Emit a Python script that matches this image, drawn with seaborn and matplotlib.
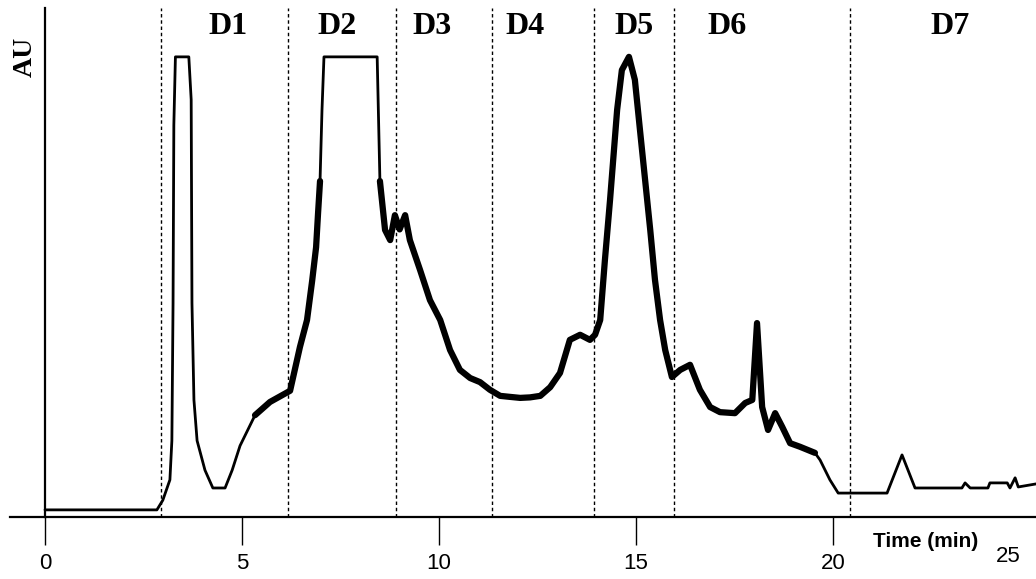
import matplotlib
matplotlib.use("Agg")
import matplotlib.pyplot as plt
import seaborn as sns
import numpy as np

# chromatogram trace (time in min, absorbance in arbitrary units)
time_min = [0, 2.84, 2.99, 3.17, 3.22, 3.25, 3.27, 3.31, 3.65, 3.71, 3.73, 3.78, 3.86,
            4.06, 4.26, 4.57, 4.75, 4.95, 5.33, 5.71, 6.22, 6.47, 6.65, 6.78, 6.88,
            6.93, 6.98, 7.03, 7.08, 8.43, 8.5, 8.63, 8.76, 8.88, 9.0, 9.14, 9.26,
            9.52, 9.77, 10.03, 10.28, 10.53, 10.79, 11.04, 11.29, 11.55, 11.8, 12.06,
            12.31, 12.57, 12.82, 13.07, 13.32, 13.58, 13.83, 13.96, 14.09, 14.21,
            14.34, 14.52, 14.64, 14.82, 14.97, 15.1, 15.23, 15.36, 15.48, 15.61,
            15.74, 15.91, 16.12, 16.37, 16.62, 16.88, 17.13, 17.51, 17.77, 17.95,
            18.07, 18.2, 18.35, 18.53, 18.71, 18.91, 19.16, 19.54, 19.67, 19.92,
            20.13, 21.37, 21.75, 22.08, 23.27, 23.35, 23.48, 23.93, 23.98, 24.42,
            24.49, 24.62, 24.7, 25.15]
au = [1.4, 1.4, 3.3, 7.3, 15, 42, 77, 90.4, 90.4, 82, 42, 23, 15,
      9.2, 5.7, 5.7, 9.2, 14, 20, 22.6, 24.8, 33.4, 38.7, 46.4, 53,
      59.7, 66, 80, 90.4, 90.4, 66, 56.4, 54.4, 59.3, 56.5, 59.3, 54.4,
      48.5, 42.6, 38.7, 32.8, 28.9, 27.3, 26.5, 25, 23.8, 23.6, 23.4,
      23.5, 23.8, 25.5, 28.3, 34.8, 35.8, 34.8, 35.8, 38.7, 50.5,
      62.3, 80, 87.8, 90.4, 85.9, 76, 66.2, 56.4, 46.6, 38.7,
      32.8, 27.5, 28.9, 29.9, 25, 21.6, 20.6, 20.4, 22.4, 23,
      38.1, 21.6, 17.1, 20.4, 17.7, 14.5, 13.8, 12.6, 11.2, 7.3,
      4.7, 4.7, 12.2, 5.7, 5.7, 6.7, 5.7, 5.7, 6.7, 6.7,
      5.7, 7.7, 5.9, 6.5]

# noisy stretches of the trace (drawn as a wider band)
noisy_spans = [(5.3, 7.0), (8.45, 19.6)]

# fraction boundaries and labels
cut_times = [2.94, 6.17, 8.9, 11.35, 13.93, 15.96, 20.43]
fractions = ["D1", "D2", "D3", "D4", "D5", "D6", "D7"]
fraction_pos = [4.64, 7.41, 9.82, 12.18, 14.95, 17.31, 22.97]

x_ticks = [0, 5, 10, 15, 20]

sns.set_style("white")
plt.rcParams["font.family"] = ["Liberation Sans", "DejaVu Sans"]
plt.rcParams["text.color"] = "black"

fig = plt.figure(figsize=(10.36, 5.79), dpi=100)
ax = fig.add_axes([10 / 1036, 62 / 579, 1026 / 1036, 509 / 579])

sns.lineplot(x=time_min, y=au, ax=ax, color="black", lw=2.0,
             estimator=None, sort=False)

t_arr = np.array(time_min)
au_arr = np.array(au)
for lo, hi in noisy_spans:
    m = (t_arr >= lo) & (t_arr <= hi)
    ax.plot(t_arr[m], au_arr[m], color="black", lw=4.5, solid_joinstyle="round",
            solid_capstyle="round")

for c in cut_times:
    ax.axvline(c, ymin=0, ymax=1, color="black", lw=1.0, ls=(0, (2.5, 2)))

for lab, pos in zip(fractions, fraction_pos):
    ax.text(pos, 96.3, lab, ha="center", va="center", fontsize=23,
            fontweight="bold", color="black",
            family=["Liberation Serif", "DejaVu Serif"])

ax.text(-0.51, 90.4, "AU", rotation=90, ha="center", va="center", fontsize=20,
        fontweight="bold", color="black",
        family=["Liberation Serif", "DejaVu Serif"])

ax.set_xlim(-0.888, 25.15)
ax.set_ylim(0, 100)

sns.despine(ax=ax, top=True, right=True)
ax.spines["left"].set_position(("data", 0))
for s in ("left", "bottom"):
    ax.spines[s].set_linewidth(1.6)
    ax.spines[s].set_color("black")

ax.set_xticks(x_ticks)
ax.set_xticklabels([str(v) for v in x_ticks])
ax.set_yticks([])
ax.tick_params(axis="x", direction="out", length=20, width=1.0, pad=6,
               labelsize=16, colors="black", bottom=True)

ax.text(24.44, -7.7, "25", ha="center", va="center", fontsize=16,
        color="black", clip_on=False)
ax.text(22.34, -4.9, "Time (min)", ha="center", va="center", fontsize=15,
        fontweight="bold", color="black", clip_on=False)

fig.savefig("out.png", dpi=100)
